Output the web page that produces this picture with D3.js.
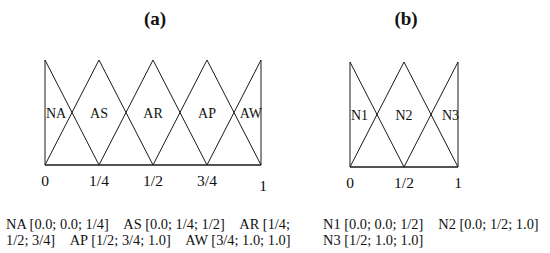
<!DOCTYPE html>
<html>
<head>
<meta charset="utf-8">
<script src="https://cdn.jsdelivr.net/npm/d3@7"></script>
<style>
  body { margin: 0; background: #fff; }
  svg { display: block; font-family: "Liberation Serif", "Times New Roman", serif; }
</style>
</head>
<body>
<svg id="chart" width="550" height="253"></svg>
<script>
// panel (a) fuzzy sets
const setsA = ["NA", "AS", "AR", "AP", "AW"];
const paramsA = [[0, 0, 0.25], [0, 0.25, 0.5], [0.25, 0.5, 0.75], [0.5, 0.75, 1], [0.75, 1, 1]];
const ticksA = [0, 0.25, 0.5, 0.75, 1];
const tickLabelsA = ["0", "1/4", "1/2", "3/4", "1"];

// panel (b) fuzzy sets
const setsB = ["N1", "N2", "N3"];
const paramsB = [[0, 0, 0.5], [0, 0.5, 1], [0.5, 1, 1]];
const ticksB = [0, 0.5, 1];
const tickLabelsB = ["0", "1/2", "1"];

// caption lines
const captionA = [
  ["NA [0.0; 0.0; 1/4]", "AS [0.0; 1/4; 1/2]", "AR [1/4;"],
  ["1/2; 3/4]", "AP [1/2; 3/4; 1.0]", "AW [3/4; 1.0; 1.0]"]
];
const captionB = [
  ["N1 [0.0; 0.0; 1/2]", "N2 [0.0; 1/2; 1.0]"],
  ["N3 [1/2; 1.0; 1.0]"]
];

const svg = d3.select("#chart");
const ink = "#1a1a1a";

const drawPanel = (title, sets, params, ticks, tickLabels, x0, x1, yTop, yBot, lastTickDy) => {
  const x = d3.scaleLinear().domain([0, 1]).range([x0, x1]);
  const y = d3.scaleLinear().domain([0, 1]).range([yBot, yTop]);
  const g = svg.append("g");

  const line = d3.line().x(d => x(d[0])).y(d => y(d[1]));

  g.selectAll("path.mf")
    .data(params)
    .join("path")
    .attr("class", "mf")
    .attr("fill", "none")
    .attr("stroke", ink)
    .attr("stroke-width", 1)
    .attr("d", p => line([[p[0], 0], [p[1], 1], [p[2], 0]]));

  // base line
  g.append("path")
    .attr("fill", "none")
    .attr("stroke", ink)
    .attr("stroke-width", 1.3)
    .attr("d", line([[0, 0], [1, 0]]));

  g.selectAll("text.lbl")
    .data(params)
    .join("text")
    .attr("class", "lbl")
    .attr("font-size", 14)
    .attr("fill", "#111")
    .attr("y", y(0.5) + 5)
    .attr("x", p => p[0] === p[1] ? x(p[0]) + 1 : (p[1] === p[2] ? x(p[2]) + 1 : x(p[1])))
    .attr("text-anchor", p => p[0] === p[1] ? "start" : (p[1] === p[2] ? "end" : "middle"))
    .text((p, i) => sets[i]);

  g.selectAll("text.tick")
    .data(ticks)
    .join("text")
    .attr("class", "tick")
    .attr("font-size", 15.5)
    .attr("fill", "#111")
    .attr("text-anchor", "middle")
    .attr("x", (d, i) => x(d) + (i === ticks.length - 1 && lastTickDy ? 2 : 0))
    .attr("y", (d, i) => yBot + 21 + (i === ticks.length - 1 ? lastTickDy : 0))
    .text((d, i) => tickLabels[i]);

  g.append("text")
    .attr("x", x(0.5) + 2)
    .attr("y", 25)
    .attr("text-anchor", "middle")
    .attr("font-size", 19)
    .attr("font-weight", "bold")
    .attr("fill", "#111")
    .text(title);
};

drawPanel("(a)", setsA, paramsA, ticksA, tickLabelsA, 45, 261, 60, 165, 5);
drawPanel("(b)", setsB, paramsB, ticksB, tickLabelsB, 350, 458, 62, 167, 0);

// captions: items laid out in sequence with a fixed gap
const drawCaption = (lines, left, gap) => {
  lines.forEach((items, li) => {
    let cx = left;
    items.forEach(t => {
      const node = svg.append("text")
        .attr("x", cx)
        .attr("y", 229 + li * 16)
        .attr("font-size", 14.4)
        .attr("fill", "#111")
        .text(t);
      cx += node.node().getComputedTextLength() + gap;
    });
  });
};
drawCaption(captionA, 6, 14.5);
drawCaption(captionB, 323, 15);
</script>
</body>
</html>
